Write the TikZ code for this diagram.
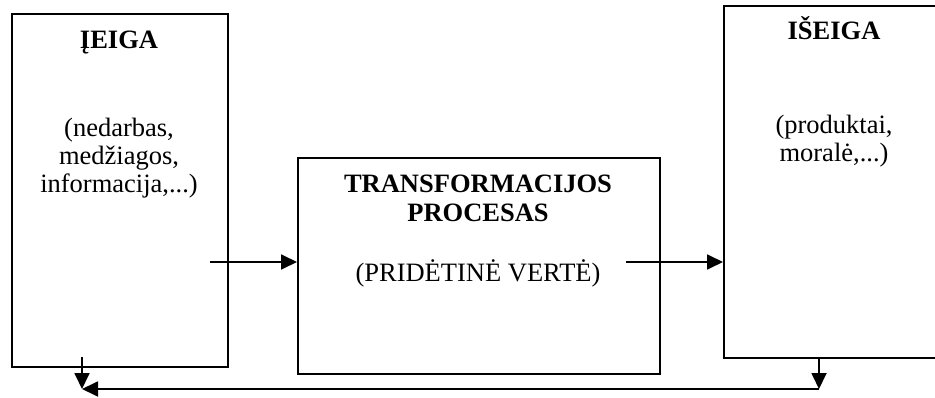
\documentclass[tikz,border=0pt]{standalone}
\usepackage{fontspec}
\setmainfont{Liberation Serif}
\usetikzlibrary{arrows.meta}
\begin{document}
\begin{tikzpicture}[x=1pt,y=-1pt,
  box/.style={draw,line width=1.8pt,inner sep=0pt,anchor=north west},
  ttl/.style={anchor=base,font=\fontsize{26.5}{28}\selectfont\bfseries,align=center,inner sep=0pt},
  txt/.style={anchor=base,font=\fontsize{26.5}{28}\selectfont,align=center,inner sep=0pt},
  arr/.style={line width=1.8pt,-{Triangle[length=16pt,width=15pt]}}]
\useasboundingbox (0,0) rectangle (935,398);
\clip (0,0) rectangle (935,398);
% boxes
\node[box,minimum width=216pt,minimum height=353pt] (in) at (11,13) {};
\node[box,minimum width=362pt,minimum height=216pt] (tr) at (297,157) {};
\node[box,minimum width=240pt,minimum height=352pt] (out) at (723,5) {};
% texts
\node[ttl] (inT) at (119,49) {ĮEIGA};
\node[txt] (inA) at (119,137) {(nedarbas,};
\node[txt] (inB) at (119,165) {medžiagos,};
\node[txt] (inC) at (119,193) {informacija,...)};
\node[ttl] (trA) at (478,193) {TRANSFORMACIJOS};
\node[ttl] (trB) at (478,222) {PROCESAS};
\node[txt] (trC) at (478,282) {(PRIDĖTINĖ VERTĖ)};
\node[ttl] (outT) at (834,40) {IŠEIGA};
\node[txt] (outA) at (834,134) {(produktai,};
\node[txt] (outB) at (834,162) {moralė,...)};
% connectors
\coordinate (a1) at (210,262);
\coordinate (a2) at (626,262);
\coordinate (d1) at (82,357);
\coordinate (e1) at (82,389);
\coordinate (d2) at (819,357);
\coordinate (e2) at (819,389);
\draw[arr] (a1) -- (tr.west |- a1);
\draw[arr] (a2) -- (out.west |- a2);
\draw[arr] (d1) -- (e1);
\draw[arr] (out.south -| d2) -- (e2);
\draw[arr] (e2) -- (e1);
\end{tikzpicture}
\end{document}
